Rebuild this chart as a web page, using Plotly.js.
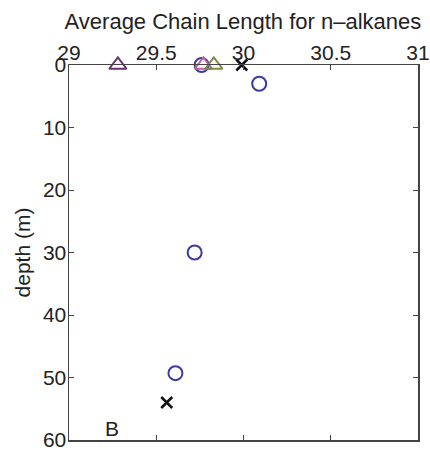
<!DOCTYPE html>
<html>
<head>
<meta charset="utf-8">
<script src="https://cdn.plot.ly/plotly-3.0.1.min.js"></script>
<style>html,body{margin:0;padding:0;background:#fff;}#chart{width:430px;height:453px;}</style>
</head>
<body>
<div id="chart"></div>
<script>
// Average chain length (x) vs depth (m) (y)
const circleACL = [29.76, 30.09, 29.72, 29.61];
const circleDepth = [0, 3, 30, 49.3];
const crossACL = [29.99, 29.56];
const crossDepth = [0, 54];
const purpleTriACL = [29.28];
const purpleTriDepth = [0];
const pinkTriACL = [29.77];
const pinkTriDepth = [0];
const greenTriACL = [29.83];
const greenTriDepth = [0];
const xTickVals = [29, 29.5, 30, 30.5, 31];
const xTickText = ['29', '29.5', '30', '30.5', '31'];
const yTickVals = [0, 10, 20, 30, 40, 50, 60];
const panelLabel = 'B';
const panelLabelPos = [29.245, 58.2];

const FONT = 'Liberation Sans, Arial, Helvetica, sans-serif';

function tri(x, y, color) {
  return {
    x: x, y: y, type: 'scatter', mode: 'markers', cliponaxis: false,
    marker: {symbol: 'triangle-up-open', size: 15, color: color, line: {width: 2, color: color}},
    hoverinfo: 'skip'
  };
}

const data = [
  tri(purpleTriACL, purpleTriDepth, '#6b3070'),
  {
    x: circleACL, y: circleDepth, type: 'scatter', mode: 'markers', cliponaxis: false,
    marker: {symbol: 'circle-open', size: 14, color: '#3c3ca0', line: {width: 2, color: '#3c3ca0'}}
  },
  tri(pinkTriACL, pinkTriDepth, '#c0609a'),
  tri(greenTriACL, greenTriDepth, '#7d8b45'),
  {
    x: crossACL, y: crossDepth, type: 'scatter', mode: 'markers', cliponaxis: false,
    marker: {symbol: 'x-thin-open', size: 11, color: '#111', line: {width: 2.5, color: '#111'}}
  }
];

const layout = {
  width: 430, height: 453,
  margin: {l: 69, r: 12, t: 65, b: 13},
  paper_bgcolor: '#fff', plot_bgcolor: '#fff',
  showlegend: false,
  font: {family: FONT, size: 20, color: '#222'},
  title: {text: 'Average Chain Length for n\u2013alkanes', font: {family: FONT, size: 22, color: '#222'},
          x: 0.565, xanchor: 'center', y: 0.952, yanchor: 'middle'},
  xaxis: {
    side: 'top', range: [29, 31], tickvals: xTickVals, ticktext: xTickText,
    ticks: 'inside', ticklen: 5, tickcolor: '#444', showline: true, linecolor: '#444', linewidth: 1.5,
    mirror: 'ticks', showgrid: false, zeroline: false, tickfont: {family: FONT, size: 21, color: '#222'},
    ticklabelstandoff: -5
  },
  yaxis: {
    range: [60, 0], tickvals: yTickVals,
    ticks: 'inside', ticklen: 5, tickcolor: '#444', showline: true, linecolor: '#444', linewidth: 1.5,
    mirror: 'ticks', showgrid: false, zeroline: false, tickfont: {family: FONT, size: 21, color: '#222'},
    ticklabelstandoff: -3,
    title: {text: 'depth (m)', font: {family: FONT, size: 21, color: '#222'}, standoff: 6}
  },
  annotations: [{
    x: panelLabelPos[0], y: panelLabelPos[1], xref: 'x', yref: 'y', text: panelLabel,
    showarrow: false, font: {family: FONT, size: 21, color: '#222'}
  }]
};

Plotly.newPlot('chart', data, layout, {displayModeBar: false, staticPlot: true});
</script>
</body>
</html>
